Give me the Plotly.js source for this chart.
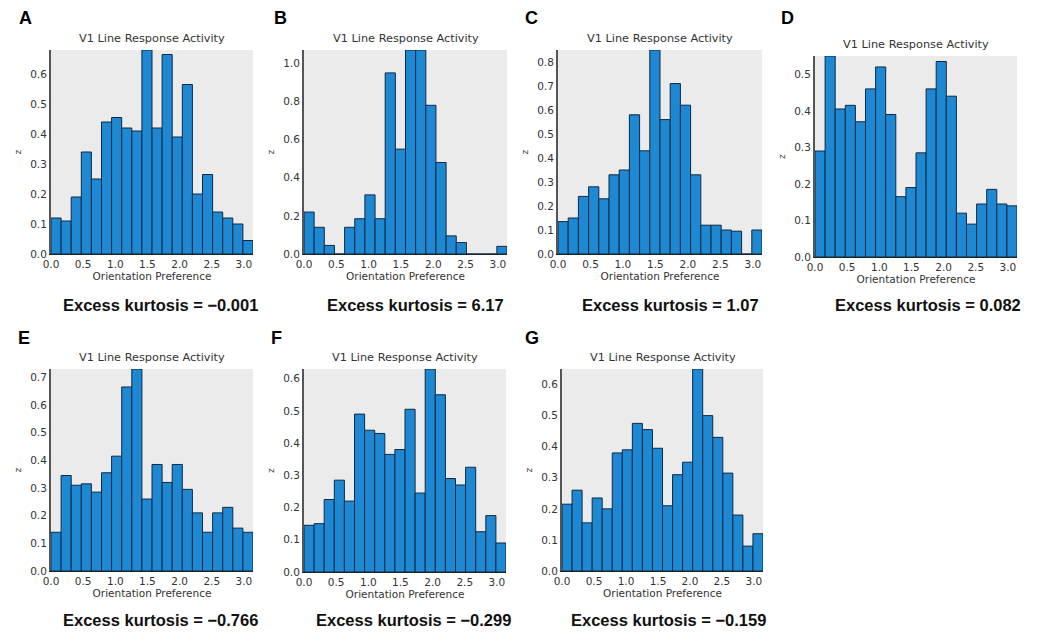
<!DOCTYPE html>
<html><head><meta charset="utf-8">
<script src="https://cdn.plot.ly/plotly-3.0.1.min.js"></script>
<style>body{margin:0;background:#fff}#chart{width:1041px;height:634px}</style>
</head><body><div id="chart"></div>
<script>
// ---- data ----
const panelLabels = ["A", "B", "C", "D", "E", "F", "G"];
const kurtosisLabels = [
  "Excess kurtosis = \u22120.001",
  "Excess kurtosis = 6.17",
  "Excess kurtosis = 1.07",
  "Excess kurtosis = 0.082",
  "Excess kurtosis = \u22120.766",
  "Excess kurtosis = \u22120.299",
  "Excess kurtosis = \u22120.159"
];
const panelTitle = "V1 Line Response Activity";
const xAxisTitle = "Orientation Preference";
const yAxisTitle = "z";
const binCount = 20;
const binMax = Math.PI;
const xTickValues = [0.0, 0.5, 1.0, 1.5, 2.0, 2.5, 3.0];
const xTickLabels = ["0.0", "0.5", "1.0", "1.5", "2.0", "2.5", "3.0"];

const valuesA = [0.12, 0.11, 0.19, 0.34, 0.25, 0.44, 0.455, 0.42, 0.41, 0.68, 0.42, 0.665, 0.39, 0.565, 0.20, 0.265, 0.14, 0.12, 0.10, 0.045];
const valuesB = [0.22, 0.14, 0.045, 0.0, 0.14, 0.185, 0.31, 0.185, 0.95, 0.55, 1.07, 1.07, 0.78, 0.48, 0.095, 0.06, 0.0, 0.0, 0.0, 0.04];
const valuesC = [0.135, 0.15, 0.24, 0.28, 0.23, 0.33, 0.35, 0.58, 0.43, 0.85, 0.56, 0.71, 0.62, 0.33, 0.12, 0.12, 0.10, 0.095, 0.0, 0.10];
const valuesD = [0.29, 0.55, 0.405, 0.415, 0.37, 0.46, 0.52, 0.39, 0.165, 0.19, 0.285, 0.46, 0.535, 0.44, 0.12, 0.09, 0.145, 0.185, 0.145, 0.14];
const valuesE = [0.14, 0.345, 0.31, 0.315, 0.285, 0.355, 0.415, 0.665, 0.73, 0.26, 0.385, 0.32, 0.385, 0.295, 0.21, 0.14, 0.21, 0.23, 0.155, 0.14];
const valuesF = [0.145, 0.15, 0.225, 0.285, 0.22, 0.49, 0.44, 0.43, 0.365, 0.38, 0.505, 0.245, 0.63, 0.55, 0.29, 0.27, 0.325, 0.125, 0.175, 0.09];
const valuesG = [0.215, 0.26, 0.155, 0.235, 0.20, 0.38, 0.39, 0.475, 0.455, 0.395, 0.21, 0.31, 0.35, 0.65, 0.50, 0.43, 0.315, 0.18, 0.08, 0.12];
const yTickSteps = [0.1, 0.2, 0.1, 0.1, 0.1, 0.1, 0.1];

const allValues = [valuesA, valuesB, valuesC, valuesD, valuesE, valuesF, valuesG];

// ---- layout (pixel boxes: left, right, top, bottom) ----
const W = 1041, H = 634;
const boxes = [
  [51, 253, 50, 254],
  [304, 507, 50, 254],
  [558, 762, 50, 254],
  [815, 1017, 56, 257],
  [51, 253, 369, 571],
  [304, 506, 369, 572],
  [562, 763, 369, 571]
];
const letterPos = [[25, 18], [280, 18], [531, 18], [787, 18], [24, 338], [276, 338], [532, 338]];
const kurtPos = [[160, 305], [415, 305], [670, 305], [928, 305], [160, 620], [413, 620], [668, 620]];

const binWidth = binMax / binCount;
const centers = Array.from({length: binCount}, (_, i) => (i + 0.5) * binWidth);

const traces = [];
const layout = {
  width: W, height: H,
  margin: {l: 0, r: 0, t: 0, b: 0},
  paper_bgcolor: "#ffffff",
  plot_bgcolor: "#ebebeb",
  showlegend: false,
  bargap: 0,
  annotations: [],
  font: {family: "DejaVu Sans, sans-serif", color: "#333"}
};

allValues.forEach((vals, k) => {
  const n = k === 0 ? "" : String(k + 1);
  const [l, r, t, b] = boxes[k];
  traces.push({
    type: "bar",
    x: centers,
    y: vals,
    width: binWidth,
    xaxis: "x" + n,
    yaxis: "y" + n,
    marker: {color: "#1f88d2", line: {color: "#0d2a45", width: 1}},
    hoverinfo: "x+y"
  });
  const ymax = Math.max(...vals);
  layout["xaxis" + n] = {
    domain: [l / W, r / W],
    anchor: "y" + n,
    range: [0, binMax],
    tickvals: xTickValues,
    ticktext: xTickLabels,
    showgrid: false,
    zeroline: false,
    showline: true,
    linecolor: "#222",
    linewidth: 1,
    ticks: "",
    tickfont: {size: 10.5, color: "#333"},
    title: {text: xAxisTitle, font: {size: 10.5, color: "#333"}, standoff: 3}
  };
  layout["yaxis" + n] = {
    domain: [1 - b / H, 1 - t / H],
    anchor: "x" + n,
    range: [0, ymax],
    dtick: yTickSteps[k],
    tick0: 0,
    tickformat: ".1f",
    showgrid: false,
    zeroline: false,
    showline: true,
    linecolor: "#555",
    linewidth: 2,
    ticks: "",
    tickfont: {size: 10.5, color: "#333"},
    title: {text: yAxisTitle, font: {size: 9, color: "#333"}, standoff: 7}
  };
  layout.annotations.push({
    text: panelTitle, xref: "paper", yref: "paper",
    x: (l + r) / 2 / W, y: 1 - (t - 3) / H,
    xanchor: "center", yanchor: "bottom", showarrow: false,
    font: {size: 11.3, color: "#333", family: "DejaVu Sans, sans-serif"}
  });
  layout.annotations.push({
    text: "<b>" + panelLabels[k] + "</b>", xref: "paper", yref: "paper",
    x: letterPos[k][0] / W, y: 1 - letterPos[k][1] / H,
    xanchor: "center", yanchor: "middle", showarrow: false,
    font: {size: 18, color: "#000", family: "Liberation Sans, Arial, sans-serif"}
  });
  layout.annotations.push({
    text: "<b>" + kurtosisLabels[k] + "</b>", xref: "paper", yref: "paper",
    x: kurtPos[k][0] / W, y: 1 - kurtPos[k][1] / H,
    xanchor: "center", yanchor: "middle", showarrow: false,
    font: {size: 16.5, color: "#111", family: "Liberation Sans, Arial, sans-serif"}
  });
});

Plotly.newPlot("chart", traces, layout, {displayModeBar: false, staticPlot: true});
</script>
</body></html>
